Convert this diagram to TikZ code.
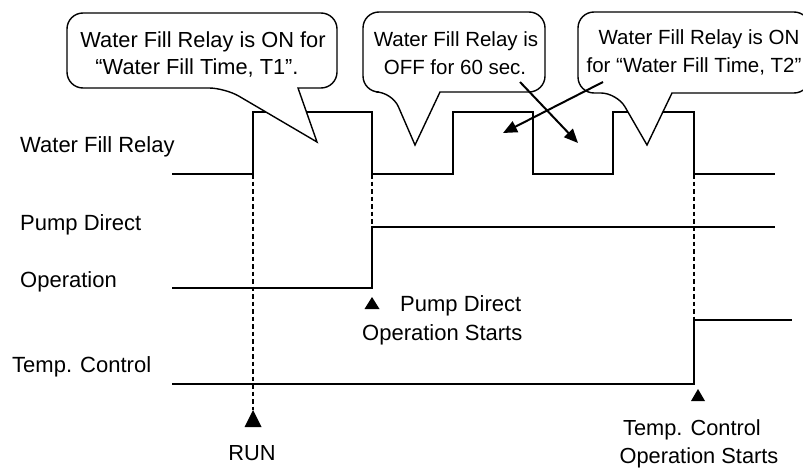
\documentclass[tikz,border=0pt]{standalone}
\usepackage{fontspec}
\setmainfont{Liberation Sans}
\usetikzlibrary{arrows.meta}
\begin{document}
\begin{tikzpicture}[x=1pt,y=-1pt,
  wave/.style={line width=1.4pt},
  dashline/.style={line width=1.2pt, dash pattern=on 4.5pt off 3pt},
  callout/.style={draw, fill=white, line width=1.4pt},
  lbl/.style={font=\fontsize{22}{24}\selectfont, inner sep=0pt, anchor=base west},
  ctxt/.style={font=\fontsize{20.5}{24}\selectfont, inner sep=0pt, anchor=base},
  ctxtb/.style={font=\fontsize{21.8}{24}\selectfont, inner sep=0pt, anchor=base},
  trimark/.style={fill=black},
  ptr/.style={-{Triangle[length=14pt,width=12pt]}, line width=2pt}]
\useasboundingbox (0,0) rectangle (803,468);
\fill[white] (0,0) rectangle (803,468);

% row labels
\node[lbl] (lrelay) at (20,153) {Water Fill Relay};
\node[lbl] (lpump1) at (20,230) {Pump Direct};
\node[lbl] (lpump2) at (20,287) {Operation};
\node[lbl] (ltemp) at (12,372) {Temp. Control};

% waveforms
\draw[wave] (172,174) -- (253,174) -- (253,112) -- (372,112) -- (372,174)
  -- (453,174) -- (453,112) -- (533,112) -- (533,174) -- (613,174)
  -- (613,112) -- (694,112) -- (694,174) -- (775,174);
\draw[wave] (172,288) -- (372,288) -- (372,227) -- (775,227);
\draw[wave] (172,384) -- (694,384) -- (694,320) -- (792,320);

% dashed guides
\draw[dashline] (253,174) -- (253,410);
\draw[dashline] (372,174) -- (372,227);
\draw[dashline] (694,174) -- (694,320);

% event markers
\fill[trimark] (253,410) -- (261.5,427) -- (244.5,427) -- cycle;
\fill[trimark] (372,297) -- (379.5,309) -- (364.5,309) -- cycle;
\fill[trimark] (698,389) -- (705,401) -- (691,401) -- cycle;

\node[ctxtb] (run) at (252,460) {RUN};
\node[lbl] (pd1) at (400,311) {Pump Direct};
\node[lbl] (pd2) at (362,340) {Operation Starts};
\node[ctxtb] (tc1) at (692,435) {Temp. Control};
\node[ctxtb] (tc2) at (699,463) {Operation Starts};

% callouts
\draw[callout, rounded corners=16pt] (200,13) -- (67,13) -- (67,88) -- (225,88)
  [sharp corners] -- (317,142) -- (298,88) [rounded corners=16pt] -- (337,88) -- (337,13) -- cycle;
\node[ctxtb] (c1a) at (203,48) {Water Fill Relay is ON for};
\node[ctxtb] (c1b) at (197,75) {“Water Fill Time, T1”.};

\draw[callout, rounded corners=16pt] (455,12) -- (363,12) -- (363,92) -- (392,92)
  [sharp corners] -- (415,145) -- (440,92) [rounded corners=16pt] -- (545,92) -- (545,12) -- cycle;
\node[ctxt] (c2a) at (456,47) {Water Fill Relay is};
\node[ctxt] (c2b) at (455,75) {OFF for 60 sec.};

\draw[callout, rounded corners=16pt] (690,12) -- (578,12) -- (578,93) -- (617,93)
  [sharp corners] -- (647,145) -- (672,93) [rounded corners=16pt] -- (810,93) -- (810,12) -- cycle;
\node[ctxt] (c3a) at (699,45) {Water Fill Relay is ON};
\node[ctxt] (c3b) at (694,73) {for “Water Fill Time, T2”};

% pointer arrows
\coordinate (a1s) at (520,82);
\coordinate (a1e) at (578,143);
\coordinate (a2s) at (603,82);
\coordinate (a2e) at (503,133);
\draw[ptr] (a1s) -- (a1e);
\draw[ptr] (a2s) -- (a2e);
\end{tikzpicture}
\end{document}
